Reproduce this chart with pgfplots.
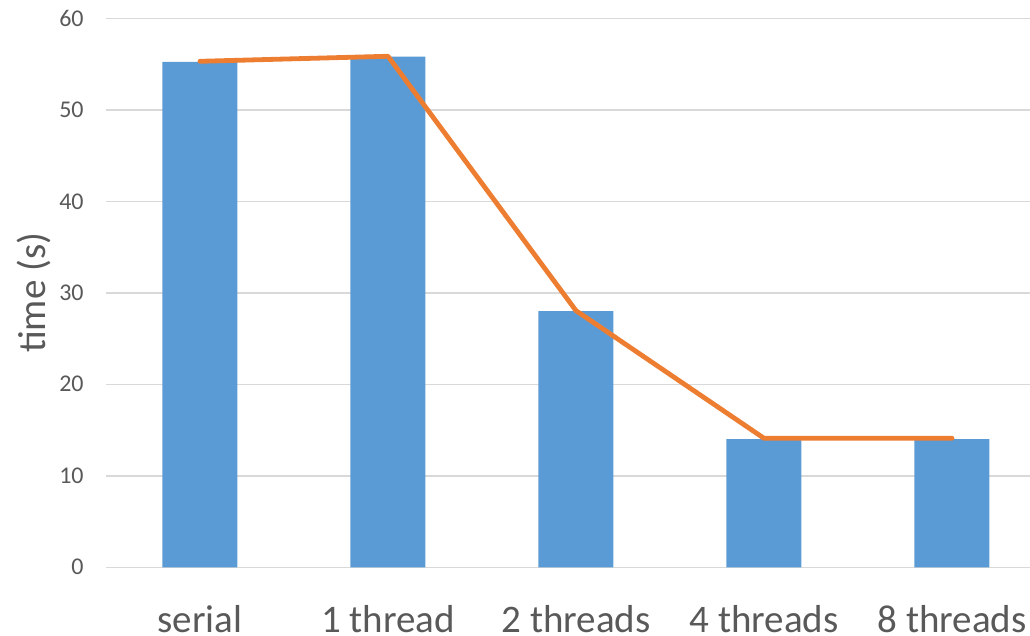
\documentclass[border=0pt]{standalone}
\usepackage{fontspec}
\setmainfont{Carlito}
\usepackage{pgfplots}
\pgfplotsset{compat=1.18}
\definecolor{barblue}{HTML}{5B9BD5}
\definecolor{lineorange}{HTML}{ED7D31}
\definecolor{gridgray}{HTML}{D9D9D9}
\definecolor{txtgray}{HTML}{595959}
\begin{document}
\begin{tikzpicture}
\begin{axis}[
  scale only axis,
  width=462pt, height=274.5pt,
  at={(0,0)}, anchor=south west,
  xmin=-0.5, xmax=4.415,
  ymin=0, ymax=60,
  ytick={0,10,20,30,40,50,60},
  xtick={0,1,2,3,4},
  xticklabels={serial,1 thread,2 threads,4 threads,8 threads},
  axis line style={draw=none},
  major tick length=0pt,
  ymajorgrids,
  grid style={gridgray, line width=0.75pt},
  /pgf/number format/assume math mode=true,
  yticklabel style={font=\fontsize{12}{14}\selectfont, text=txtgray, anchor=east, inner sep=0pt, xshift=-11pt},
  xticklabel style={font=\fontsize{19.5}{22}\selectfont, text=txtgray, anchor=base, inner sep=0pt, yshift=-32.5pt},
  ylabel={time (s)},
  ylabel style={font=\fontsize{19.5}{22}\selectfont, text=txtgray, at={([xshift=-30pt]axis description cs:0,0.5)}, anchor=base, inner sep=0pt},
  clip=false,
]
\addplot[ybar, bar width=37.5pt, fill=barblue, draw=none] coordinates {
  (0,55.25) (1,55.8) (2,28.0) (3,14.0) (4,14.0)
};
\addplot[lineorange, line width=2.4pt, line cap=round, line join=round, mark=none] coordinates {
  (0,55.3) (1,55.85) (2,28.05) (3,14.1) (4,14.1)
};
\end{axis}
\pgfresetboundingbox
\useasboundingbox (-53pt,-34.35pt) rectangle (462pt,283.65pt);
\end{tikzpicture}
\end{document}
